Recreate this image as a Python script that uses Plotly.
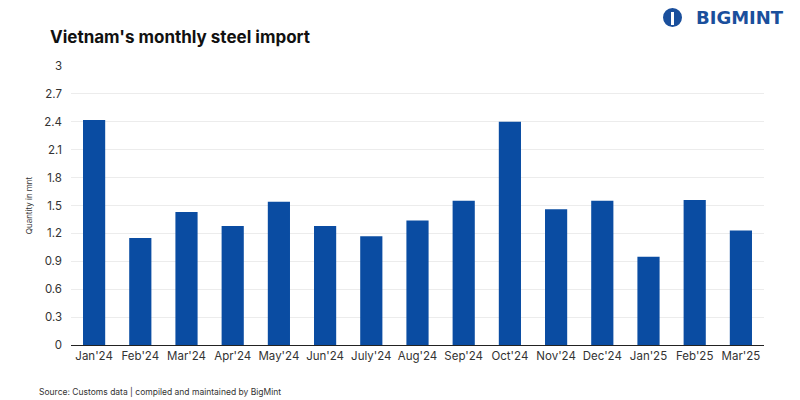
import plotly.graph_objects as go

months = ["Jan'24", "Feb'24", "Mar'24", "Apr'24", "May'24", "Jun'24", "July'24", "Aug'24",
          "Sep'24", "Oct'24", "Nov'24", "Dec'24", "Jan'25", "Feb'25", "Mar'25"]
quantity = [2.42, 1.15, 1.43, 1.28, 1.54, 1.28, 1.17, 1.34, 1.55, 2.40, 1.46, 1.55, 0.95, 1.56, 1.23]
y_ticks = [0, 0.3, 0.6, 0.9, 1.2, 1.5, 1.8, 2.1, 2.4, 2.7, 3]
y_tick_text = ["0", "0.3", "0.6", "0.9", "1.2", "1.5", "1.8", "2.1", "2.4", "2.7", "3"]

BLUE = "#0a4ca2"
FONT = "Inter, Liberation Sans, sans-serif"

# page body has an 8px margin; work in figure coordinates (page - 8)
W, H = 792, 392
L, R, T, B = 63, 36, 58, 55
PW, PH = W - L - R, H - T - B


def px(x):
    return (x - L) / PW


def py(y):
    return (H - B - y) / PH


fig = go.Figure(go.Bar(x=months, y=quantity, marker_color=BLUE, marker_line_width=0,
                       hoverinfo="x+y"))

fig.update_layout(
    width=W, height=H,
    margin=dict(l=L, r=R, t=T, b=B),
    paper_bgcolor="white", plot_bgcolor="white",
    bargap=0.52,
    showlegend=False,
    font=dict(family=FONT, color="#333333", size=11),
    title=dict(text="<b>Vietnam's monthly steel import</b>", x=42 / W, xanchor="left",
               y=1 - 29 / H, yanchor="middle",
               font=dict(family=FONT, size=17, color="#111111")),
    xaxis=dict(showgrid=False, showline=True, linecolor="#222222", linewidth=1,
               ticks="", tickfont=dict(size=11.5, color="#333333"), fixedrange=True),
    yaxis=dict(range=[0, 3], tickvals=y_ticks, ticktext=y_tick_text,
               showgrid=True, gridcolor="#ececec", gridwidth=1, zeroline=False,
               showline=False, ticks="", ticklabelstandoff=8,
               tickfont=dict(size=11.5, color="#333333"),
               title=dict(text="Quantity in mnt", standoff=10,
                          font=dict(size=8, color="#333333"))),
    annotations=[
        dict(text="Source: Customs data | compiled and maintained by BigMint",
             xref="paper", yref="paper", x=px(29), y=py(383), xanchor="left", yanchor="middle",
             showarrow=False, font=dict(family=FONT, size=8.5, color="#333333")),
        dict(text="<b>BIGMINT</b>", xref="paper", yref="paper",
             x=px(778), y=py(10), xanchor="right", yanchor="middle",
             showarrow=False, font=dict(family="DejaVu Sans", size=18, color="#1a4f9c")),
    ],
    shapes=[
        dict(type="circle", xref="paper", yref="paper",
             x0=px(655), x1=px(674), y0=py(19), y1=py(0),
             fillcolor="#1a4f9c", line=dict(width=0)),
        dict(type="rect", xref="paper", yref="paper",
             x0=px(663), x1=px(666), y0=py(17), y1=py(4),
             fillcolor="white", line=dict(width=0)),
    ],
)

fig.write_html("out.html")
